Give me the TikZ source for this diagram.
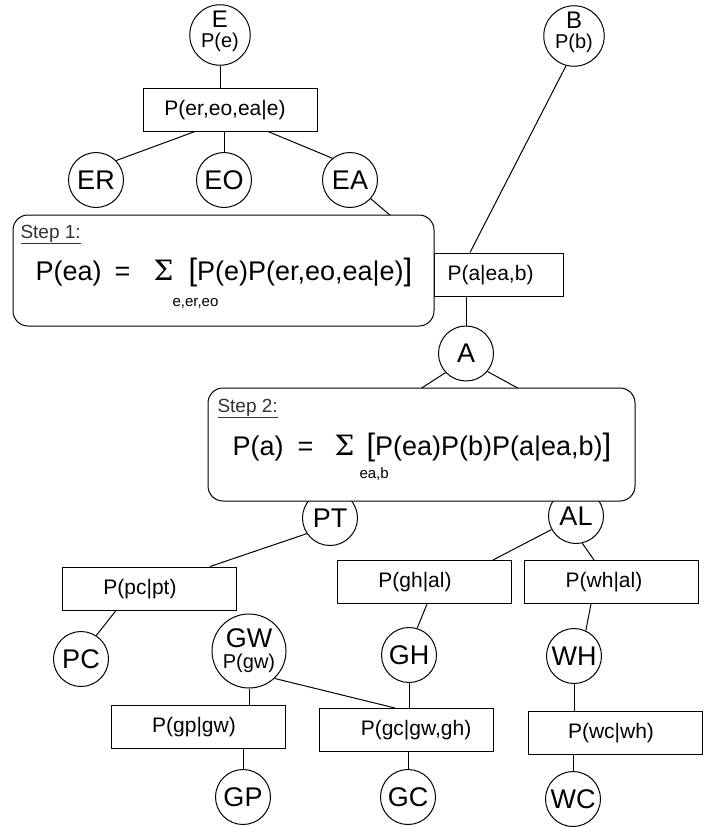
\documentclass[tikz,border=0pt]{standalone}
\usepackage{fontspec}
\setmainfont{Liberation Sans}
\newfontfamily\serifsym{DejaVu Serif}
\newcommand\fs[1]{\fontsize{#1}{#1}\selectfont}
% move a label sideways inside its box without changing the box size
\newcommand\txshift[2]{\hspace*{#1}#2\hspace*{-#1}}

\begin{document}
\begin{tikzpicture}[x=1pt, y=-1pt, line width=1pt,
  var/.style={draw, circle, minimum size=55pt, inner sep=0pt, font={\fs{27}}},
  pvar/.style={draw, circle, minimum size=55pt, inner sep=0pt, align=center, font={\fs{20}}, text depth=11pt},
  cpt/.style={draw, rectangle, minimum width=174pt, minimum height=43pt, inner sep=0pt,
    text height=15pt, text depth=4pt, font={\fs{21}}},
  stepbox/.style={draw, fill=white, rounded corners=15pt, inner sep=0pt},
  steplbl/.style={anchor=base west, inner sep=0pt, font={\fs{19}}, text=black!80},
  ftext/.style={anchor=base west, inner sep=0pt, font={\fs{27}}},
  fsum/.style={anchor=base west, inner sep=0pt, font={\serifsym\fs{28}}},
  fsub/.style={anchor=base west, inner sep=0pt, font={\fs{15}}}
]
\useasboundingbox (0,0) rectangle (709,827);

% ---- variables and conditional tables
\node[pvar] (e) at (220,35) {{\fs{24}E}\\[0pt]P(e)};
\node[pvar] (b) at (574,36) {{\fs{24}B}\\[0pt]P(b)};
\node[cpt] (pbox1) at (230,109.5) {\txshift{-5pt}{P(er,eo,ea|e)}};
\node[var] (er) at (96,180) {ER};
\node[var] (eo) at (224,180) {EO};
\node[var] (ea) at (350,180) {EA};
\node[cpt, minimum width=129pt] (alea) at (498.5,274.5) {\txshift{-8pt}{P(a|ea,b)}};
\node[var] (a) at (466,353.5) {A};
\coordinate (hidL) at (380,415);
\coordinate (hidR) at (545,403);

\node[var] (pt) at (330,518) {PT};
\node[var] (al) at (576,516) {AL};
\node[cpt] (pcbox) at (149,588.5) {\txshift{-9pt}{P(pc|pt)}};
\node[cpt] (ghbox) at (424,582) {\txshift{-9pt}{P(gh|al)}};
\node[cpt] (whbox) at (611,582) {\txshift{-7pt}{P(wh|al)}};
\node[var] (pc) at (81,659) {PC};
\node[pvar, minimum size=74pt, text depth=5pt] (gw) at (249,651) {{\fs{27}GW}\\[1pt]{\fs{20}P(gw)}};
\node[var] (gh) at (409,655) {GH};
\node[var] (wh) at (574,656) {WH};
\node[cpt] (gpbox) at (198,726.5) {\txshift{-4pt}{P(gp|gw)}};
\node[cpt] (gcbox) at (406,730) {\txshift{10pt}{P(gc|gw,gh)}};
\node[cpt] (wcbox) at (615,732.5) {\txshift{-4pt}{P(wc|wh)}};
\node[var] (gp) at (243,797) {GP};
\node[var] (gc) at (408,797) {GC};
\node[var] (wc) at (573,799) {WC};

% ---- connectors
\draw (e.south) -- (e.south |- pbox1.north);
\draw ([xshift=-35pt]pbox1.south) -- (er.44);
\draw (eo.north |- pbox1.south) -- (eo.north);
\draw ([xshift=38pt]pbox1.south) -- (ea.129);
\draw (ea.-42) -- (alea.north west);
\draw (b.255) -- ([xshift=-28.5pt]alea.north);
\draw (a.north |- alea.south) -- (a.north);
\draw (a.223) -- (hidL);
\draw (a.-40) -- (hidR);
\draw (pt.214) -- ([xshift=61pt]pcbox.north);
\draw ([xshift=-33pt]pcbox.south) -- (pc.57);
\draw (gw.south) -- (gw.south |- gpbox.north);
\draw (gp.north |- gpbox.south) -- (gp.north);
\draw (gw.-47) -- ([xshift=-11pt]gcbox.north);
\draw (al.209) -- ([xshift=69pt]ghbox.north);
\draw (al.283) -- ([xshift=-17pt]whbox.north);
\draw ([xshift=3pt]ghbox.south) -- (gh.73);
\draw (gh.south) -- (gh.south |- gcbox.north);
\draw (gc.north |- gcbox.south) -- (gc.north);
\draw ([xshift=-20pt]whbox.south) -- (wh.65);
\draw (wh.south) -- (wh.south |- wcbox.north);
\draw (wc.north |- wcbox.south) -- (wc.north);

% ---- step 1: marginal of EA
\node[stepbox, minimum width=421pt, minimum height=111pt] (step1) at (223.5,270.5) {};
\node[steplbl] (s1lbl) at (20,238) {\underline{Step 1:}};
\node[ftext] (f1lhs) at (35,280) {P(ea)};
\node[ftext] (f1eq) at (114,280) {=};
\node[fsum] (f1sum) at (153,280) {Σ};
\node[ftext] (f1rhs) at (188,280) {{\fs{31}[}P(e)P(er,eo,ea|e){\fs{31}]}};
\node[fsub] (f1sub) at (172,306) {e,er,eo};

% ---- step 2: marginal of A
\node[stepbox, minimum width=427pt, minimum height=113pt] (step2) at (421.5,444.5) {};
\node[steplbl] (s2lbl) at (217,412) {\underline{Step 2:}};
\node[ftext] (f2lhs) at (232,455) {P(a)};
\node[ftext] (f2eq) at (297,455) {=};
\node[fsum] (f2sum) at (334,455) {Σ};
\node[ftext] (f2rhs) at (366,455) {{\fs{31}[}P(ea)P(b)P(a|ea,b){\fs{31}]}};
\node[fsub] (f2sub) at (359,478) {ea,b};
\end{tikzpicture}
\end{document}
